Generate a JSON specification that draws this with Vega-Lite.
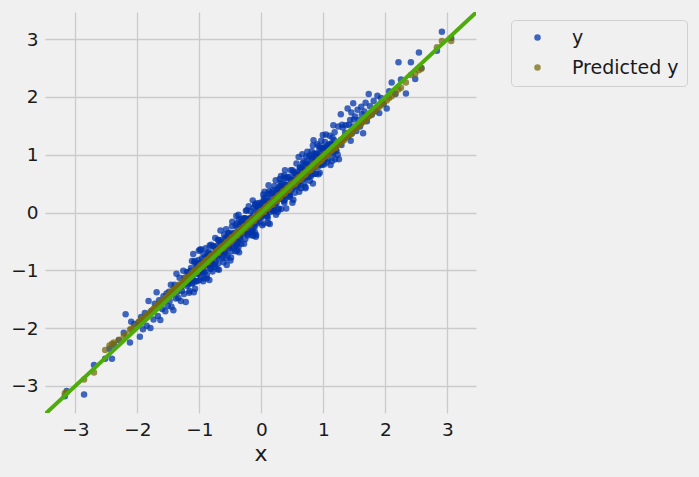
{
"$schema": "https://vega.github.io/schema/vega-lite/v6.json",
"width": 431, "height": 401,
"autosize": {"type": "none"},
"padding": {"left": 45, "top": 12, "right": 223, "bottom": 64},
"background": "#f0f0f0",
"config": {
  "view": {"stroke": null},
  "font": "DejaVu Sans",
  "axis": {"grid": true, "gridColor": "#cbcbcb", "gridWidth": 1.3, "domain": false, "ticks": false, "labelFont": "DejaVu Sans", "labelFontSize": 18.5, "labelColor": "#1a1a1a", "titleFont": "DejaVu Sans", "titleFontWeight": "normal", "titleColor": "#1a1a1a"}
},
"data": {"values": [
{"x":-3.17,"y":-3.18,"p":-3.13},{"x":-3.14,"y":-3.09,"p":-3.11},{"x":-2.86,"y":-3.15,"p":-2.89},{"x":-2.70,"y":-2.64,"p":-2.77},{"x":-2.52,"y":-2.53,"p":-2.38},
{"x":-2.45,"y":-2.36,"p":-2.30},{"x":-2.41,"y":-2.53,"p":-2.27},{"x":-2.38,"y":-2.29,"p":-2.25},{"x":-2.30,"y":-2.21,"p":-2.20},{"x":-2.22,"y":-2.08,"p":-2.14},{"x":-2.19,"y":-1.76,"p":-2.11},{"x":-2.12,"y":-2.25,"p":-2.03},{"x":-2.10,"y":-1.89,"p":-2.01},{"x":-2.05,"y":-1.93,"p":-1.97},
{"x":-1.98,"y":-1.90,"p":-1.90},{"x":-1.96,"y":-2.15,"p":-1.88},{"x":-1.94,"y":-1.81,"p":-1.86},{"x":-1.91,"y":-2.02,"p":-1.83},{"x":-1.88,"y":-1.74,"p":-1.81},{"x":-1.85,"y":-1.96,"p":-1.78},{"x":-1.82,"y":-1.53,"p":-1.75},{"x":-1.79,"y":-2.00,"p":-1.72},{"x":-1.77,"y":-1.70,"p":-1.70},{"x":-1.74,"y":-1.85,"p":-1.67},{"x":-1.72,"y":-1.58,"p":-1.65},{"x":-1.69,"y":-1.38,"p":-1.62},{"x":-1.67,"y":-1.79,"p":-1.60},{"x":-1.65,"y":-1.52,"p":-1.58},{"x":-1.63,"y":-1.86,"p":-1.56},{"x":-1.60,"y":-1.67,"p":-1.54},{"x":-1.58,"y":-1.45,"p":-1.52},{"x":-1.55,"y":-1.71,"p":-1.49},{"x":-1.53,"y":-1.40,"p":-1.47},{"x":-1.51,"y":-1.62,"p":-1.45},
{"x":-1.49,"y":-1.37,"p":-1.41},{"x":-1.48,"y":-1.53,"p":-1.43},{"x":-1.46,"y":-1.25,"p":-1.37},{"x":-1.45,"y":-1.63,"p":-1.39},{"x":-1.44,"y":-1.41,"p":-1.40},{"x":-1.42,"y":-1.69,"p":-1.35},{"x":-1.41,"y":-1.32,"p":-1.38},{"x":-1.40,"y":-1.25,"p":-1.32},{"x":-1.38,"y":-1.49,"p":-1.32},{"x":-1.37,"y":-1.06,"p":-1.33},{"x":-1.36,"y":-1.38,"p":-1.29},{"x":-1.34,"y":-1.48,"p":-1.30},{"x":-1.33,"y":-1.27,"p":-1.25},{"x":-1.32,"y":-1.13,"p":-1.27},{"x":-1.30,"y":-1.53,"p":-1.27},{"x":-1.29,"y":-1.28,"p":-1.23},{"x":-1.28,"y":-1.36,"p":-1.26},{"x":-1.26,"y":-1.01,"p":-1.19},{"x":-1.25,"y":-1.41,"p":-1.20},{"x":-1.24,"y":-1.13,"p":-1.20},{"x":-1.22,"y":-1.55,"p":-1.15},{"x":-1.21,"y":-1.17,"p":-1.17},{"x":-1.20,"y":-1.03,"p":-1.12},{"x":-1.18,"y":-1.24,"p":-1.13},{"x":-1.17,"y":-1.09,"p":-1.14},{"x":-1.16,"y":-1.36,"p":-1.10},{"x":-1.14,"y":-1.01,"p":-1.12},{"x":-1.13,"y":-1.14,"p":-1.06},{"x":-1.12,"y":-0.84,"p":-1.08},{"x":-1.11,"y":-1.23,"p":-1.08},{"x":-1.10,"y":-0.72,"p":-1.04},{"x":-1.09,"y":-1.18,"p":-1.06},{"x":-1.08,"y":-0.86,"p":-1.01},{"x":-1.07,"y":-1.32,"p":-1.03},{"x":-1.06,"y":-1.04,"p":-1.04},{"x":-1.05,"y":-0.89,"p":-1.00},{"x":-1.04,"y":-1.19,"p":-1.03},{"x":-1.03,"y":-0.93,"p":-0.97},{"x":-1.02,"y":-1.06,"p":-0.98},{"x":-1.01,"y":-0.66,"p":-0.98},{"x":-1.00,"y":-0.88,"p":-0.94},
{"x":-0.99,"y":-0.64,"p":-0.93},{"x":-0.98,"y":-1.02,"p":-0.95},{"x":-0.975,"y":-0.88,"p":-0.91},{"x":-0.97,"y":-1.12,"p":-0.93},{"x":-0.96,"y":-0.80,"p":-0.94},{"x":-0.95,"y":-0.93,"p":-0.90},{"x":-0.94,"y":-1.19,"p":-0.93},{"x":-0.935,"y":-0.72,"p":-0.88},{"x":-0.93,"y":-1.02,"p":-0.89},{"x":-0.92,"y":-0.85,"p":-0.89},{"x":-0.91,"y":-1.03,"p":-0.85},{"x":-0.90,"y":-0.62,"p":-0.87},{"x":-0.89,"y":-0.90,"p":-0.82},{"x":-0.885,"y":-0.76,"p":-0.85},{"x":-0.88,"y":-1.08,"p":-0.86},{"x":-0.87,"y":-0.79,"p":-0.83},{"x":-0.86,"y":-0.92,"p":-0.86},{"x":-0.85,"y":-0.68,"p":-0.80},{"x":-0.845,"y":-0.81,"p":-0.81},{"x":-0.84,"y":-1.17,"p":-0.82},{"x":-0.83,"y":-0.72,"p":-0.78},{"x":-0.82,"y":-0.98,"p":-0.80},{"x":-0.81,"y":-0.56,"p":-0.75},{"x":-0.80,"y":-0.88,"p":-0.77},{"x":-0.795,"y":-0.79,"p":-0.78},{"x":-0.79,"y":-1.02,"p":-0.75},{"x":-0.78,"y":-0.59,"p":-0.78},{"x":-0.77,"y":-0.71,"p":-0.72},{"x":-0.76,"y":-0.90,"p":-0.73},{"x":-0.75,"y":-0.77,"p":-0.73},{"x":-0.745,"y":-0.44,"p":-0.70},{"x":-0.74,"y":-0.85,"p":-0.72},{"x":-0.73,"y":-0.58,"p":-0.67},{"x":-0.72,"y":-0.63,"p":-0.69},{"x":-0.71,"y":-0.98,"p":-0.70},{"x":-0.70,"y":-0.67,"p":-0.66},{"x":-0.695,"y":-0.88,"p":-0.70},{"x":-0.69,"y":-0.48,"p":-0.64},{"x":-0.68,"y":-0.73,"p":-0.65},{"x":-0.67,"y":-0.55,"p":-0.65},{"x":-0.66,"y":-0.31,"p":-0.61},{"x":-0.65,"y":-0.69,"p":-0.63},{"x":-0.645,"y":-0.55,"p":-0.59},{"x":-0.64,"y":-0.79,"p":-0.61},{"x":-0.63,"y":-0.47,"p":-0.62},{"x":-0.62,"y":-0.60,"p":-0.59},{"x":-0.61,"y":-0.86,"p":-0.62},{"x":-0.60,"y":-0.38,"p":-0.56},{"x":-0.595,"y":-0.69,"p":-0.57},{"x":-0.59,"y":-0.52,"p":-0.58},{"x":-0.58,"y":-0.70,"p":-0.54},{"x":-0.57,"y":-0.29,"p":-0.56},{"x":-0.56,"y":-0.91,"p":-0.51},{"x":-0.55,"y":-0.42,"p":-0.53},{"x":-0.545,"y":-0.75,"p":-0.54},{"x":-0.54,"y":-0.46,"p":-0.51},{"x":-0.53,"y":-0.59,"p":-0.54},{"x":-0.52,"y":-0.35,"p":-0.48},{"x":-0.51,"y":-0.47,"p":-0.49},{"x":-0.50,"y":-0.83,"p":-0.49},
{"x":-0.49,"y":-0.37,"p":-0.45},{"x":-0.485,"y":-0.67,"p":-0.48},{"x":-0.48,"y":-0.39,"p":-0.43},{"x":-0.47,"y":-0.16,"p":-0.45},{"x":-0.465,"y":-0.41,"p":-0.47},{"x":-0.46,"y":-0.45,"p":-0.43},{"x":-0.45,"y":-0.61,"p":-0.46},{"x":-0.445,"y":-0.41,"p":-0.41},{"x":-0.44,"y":-0.36,"p":-0.42},{"x":-0.43,"y":-0.44,"p":-0.42},{"x":-0.425,"y":-0.36,"p":-0.39},{"x":-0.42,"y":-0.67,"p":-0.41},{"x":-0.41,"y":-0.56,"p":-0.36},{"x":-0.405,"y":-0.06,"p":-0.39},{"x":-0.40,"y":-0.19,"p":-0.40},{"x":-0.39,"y":-0.66,"p":-0.36},{"x":-0.385,"y":-0.50,"p":-0.40},{"x":-0.38,"y":-0.52,"p":-0.34},{"x":-0.37,"y":-0.60,"p":-0.36},{"x":-0.365,"y":-0.12,"p":-0.36},{"x":-0.36,"y":-0.69,"p":-0.33},{"x":-0.35,"y":-0.41,"p":-0.35},{"x":-0.345,"y":-0.22,"p":-0.30},{"x":-0.34,"y":-0.46,"p":-0.33},{"x":-0.33,"y":-0.11,"p":-0.34},{"x":-0.325,"y":-0.17,"p":-0.30},{"x":-0.32,"y":-0.36,"p":-0.34},{"x":-0.31,"y":-0.36,"p":-0.28},{"x":-0.305,"y":-0.28,"p":-0.29},{"x":-0.30,"y":-0.15,"p":-0.30},{"x":-0.29,"y":-0.31,"p":-0.26},{"x":-0.285,"y":-0.10,"p":-0.28},{"x":-0.28,"y":-0.36,"p":-0.24},{"x":-0.27,"y":-0.16,"p":-0.26},{"x":-0.265,"y":-0.10,"p":-0.27},{"x":-0.26,"y":-0.46,"p":-0.24},{"x":-0.25,"y":0.03,"p":-0.27},{"x":-0.245,"y":-0.34,"p":-0.22},{"x":-0.24,"y":-0.22,"p":-0.23},{"x":-0.23,"y":-0.13,"p":-0.23},{"x":-0.225,"y":-0.11,"p":-0.20},{"x":-0.22,"y":-0.40,"p":-0.22},{"x":-0.21,"y":-0.12,"p":-0.17},{"x":-0.205,"y":0.11,"p":-0.20},{"x":-0.20,"y":-0.14,"p":-0.21},{"x":-0.19,"y":-0.18,"p":-0.17},{"x":-0.185,"y":-0.35,"p":-0.21},{"x":-0.18,"y":-0.14,"p":-0.15},{"x":-0.17,"y":-0.09,"p":-0.16},{"x":-0.165,"y":-0.18,"p":-0.17},{"x":-0.16,"y":-0.09,"p":-0.13},{"x":-0.15,"y":-0.40,"p":-0.15},{"x":-0.145,"y":-0.30,"p":-0.11},{"x":-0.14,"y":0.21,"p":-0.13},{"x":-0.13,"y":0.08,"p":-0.14},{"x":-0.125,"y":-0.40,"p":-0.11},{"x":-0.12,"y":-0.23,"p":-0.15},{"x":-0.11,"y":-0.25,"p":-0.09},{"x":-0.105,"y":-0.34,"p":-0.10},{"x":-0.10,"y":0.15,"p":-0.11},{"x":-0.09,"y":-0.42,"p":-0.07},{"x":-0.085,"y":-0.15,"p":-0.09},{"x":-0.08,"y":0.05,"p":-0.05},{"x":-0.07,"y":-0.19,"p":-0.07},{"x":-0.065,"y":0.16,"p":-0.08},{"x":-0.06,"y":0.10,"p":-0.05},{"x":-0.05,"y":-0.09,"p":-0.08},{"x":-0.045,"y":-0.10,"p":-0.02},{"x":-0.04,"y":-0.01,"p":-0.04},{"x":-0.03,"y":0.12,"p":-0.04},{"x":-0.025,"y":-0.05,"p":0.00},{"x":-0.02,"y":0.17,"p":-0.03},{"x":-0.01,"y":-0.09,"p":0.02},{"x":-0.005,"y":0.11,"p":0.00},
{"x":0.00,"y":0.12,"p":0.02},{"x":0.01,"y":0.16,"p":0.00},{"x":0.015,"y":-0.22,"p":0.04},{"x":0.02,"y":0.06,"p":0.02},{"x":0.03,"y":0.31,"p":0.01},{"x":0.035,"y":0.20,"p":0.04},{"x":0.04,"y":0.25,"p":0.01},{"x":0.05,"y":0.36,"p":0.07},{"x":0.055,"y":-0.03,"p":0.05},{"x":0.06,"y":0.00,"p":0.05},{"x":0.07,"y":0.14,"p":0.09},{"x":0.075,"y":0.18,"p":0.06},{"x":0.08,"y":0.11,"p":0.11},{"x":0.09,"y":-0.05,"p":0.09},{"x":0.095,"y":-0.07,"p":0.07},{"x":0.10,"y":-0.10,"p":0.11},{"x":0.11,"y":0.33,"p":0.08},{"x":0.115,"y":0.47,"p":0.13},{"x":0.12,"y":0.21,"p":0.12},{"x":0.13,"y":0.32,"p":0.11},{"x":0.135,"y":-0.20,"p":0.15},{"x":0.14,"y":0.13,"p":0.12},{"x":0.15,"y":0.17,"p":0.17},{"x":0.155,"y":0.11,"p":0.15},{"x":0.16,"y":0.05,"p":0.13},{"x":0.17,"y":0.18,"p":0.17},{"x":0.175,"y":0.35,"p":0.14},{"x":0.18,"y":0.06,"p":0.19},{"x":0.19,"y":0.04,"p":0.18},{"x":0.195,"y":0.02,"p":0.18},{"x":0.20,"y":0.18,"p":0.21},{"x":0.21,"y":0.46,"p":0.19},{"x":0.215,"y":0.30,"p":0.24},{"x":0.22,"y":0.13,"p":0.21},{"x":0.23,"y":0.19,"p":0.20},{"x":0.235,"y":-0.04,"p":0.24},{"x":0.24,"y":0.30,"p":0.20},{"x":0.25,"y":0.36,"p":0.26},{"x":0.255,"y":0.39,"p":0.24},{"x":0.26,"y":0.01,"p":0.24},{"x":0.27,"y":0.39,"p":0.28},{"x":0.275,"y":0.43,"p":0.25},{"x":0.28,"y":0.05,"p":0.30},{"x":0.29,"y":0.33,"p":0.28},{"x":0.295,"y":0.58,"p":0.26},{"x":0.30,"y":0.46,"p":0.30},{"x":0.31,"y":0.52,"p":0.27},{"x":0.315,"y":0.63,"p":0.32},{"x":0.32,"y":0.24,"p":0.31},{"x":0.33,"y":0.27,"p":0.31},{"x":0.335,"y":0.41,"p":0.34},{"x":0.34,"y":0.44,"p":0.32},{"x":0.35,"y":0.38,"p":0.37},{"x":0.355,"y":0.22,"p":0.34},{"x":0.36,"y":0.20,"p":0.33},{"x":0.37,"y":0.17,"p":0.37},{"x":0.375,"y":0.60,"p":0.33},{"x":0.38,"y":0.73,"p":0.38},{"x":0.39,"y":0.48,"p":0.37},{"x":0.395,"y":0.59,"p":0.37},{"x":0.40,"y":0.07,"p":0.40},{"x":0.41,"y":0.40,"p":0.38},{"x":0.415,"y":0.44,"p":0.43},{"x":0.42,"y":0.37,"p":0.40},{"x":0.43,"y":0.32,"p":0.39},{"x":0.435,"y":0.45,"p":0.43},{"x":0.44,"y":0.61,"p":0.39},{"x":0.45,"y":0.33,"p":0.45},{"x":0.455,"y":0.31,"p":0.44},{"x":0.46,"y":0.28,"p":0.43},{"x":0.47,"y":0.45,"p":0.47},{"x":0.475,"y":0.73,"p":0.45},{"x":0.48,"y":0.56,"p":0.49},{"x":0.49,"y":0.40,"p":0.47},
{"x":0.50,"y":0.17,"p":0.50},{"x":0.51,"y":0.55,"p":0.48},{"x":0.515,"y":0.69,"p":0.52},{"x":0.52,"y":0.46,"p":0.50},{"x":0.53,"y":0.61,"p":0.49},{"x":0.54,"y":0.34,"p":0.53},{"x":0.55,"y":0.68,"p":0.50},{"x":0.56,"y":0.55,"p":0.56},{"x":0.565,"y":0.85,"p":0.54},{"x":0.57,"y":0.45,"p":0.54},{"x":0.58,"y":0.65,"p":0.58},{"x":0.59,"y":0.50,"p":0.56},{"x":0.60,"y":0.96,"p":0.61},{"x":0.61,"y":0.36,"p":0.59},{"x":0.615,"y":0.64,"p":0.57},{"x":0.62,"y":0.78,"p":0.61},{"x":0.63,"y":0.48,"p":0.57},{"x":0.64,"y":0.74,"p":0.63},{"x":0.65,"y":0.61,"p":0.62},{"x":0.66,"y":1.01,"p":0.62},{"x":0.665,"y":0.79,"p":0.66},{"x":0.67,"y":0.62,"p":0.63},{"x":0.68,"y":0.89,"p":0.68},{"x":0.69,"y":0.51,"p":0.66},{"x":0.70,"y":0.73,"p":0.65},{"x":0.71,"y":0.44,"p":0.69},{"x":0.715,"y":0.81,"p":0.66},{"x":0.72,"y":0.87,"p":0.71},{"x":0.73,"y":0.62,"p":0.70},{"x":0.74,"y":1.05,"p":0.70},{"x":0.75,"y":0.73,"p":0.74},{"x":0.76,"y":0.62,"p":0.72},{"x":0.765,"y":0.83,"p":0.76},{"x":0.77,"y":0.96,"p":0.74},{"x":0.78,"y":0.55,"p":0.73},{"x":0.79,"y":0.80,"p":0.77},{"x":0.80,"y":0.72,"p":0.74},{"x":0.81,"y":1.06,"p":0.80},{"x":0.815,"y":0.66,"p":0.78},{"x":0.82,"y":0.93,"p":0.78},{"x":0.83,"y":0.50,"p":0.82},{"x":0.84,"y":1.25,"p":0.80},{"x":0.85,"y":1.02,"p":0.85},{"x":0.86,"y":0.80,"p":0.83},{"x":0.865,"y":0.95,"p":0.81},{"x":0.87,"y":0.67,"p":0.85},{"x":0.88,"y":1.01,"p":0.81},{"x":0.89,"y":0.88,"p":0.87},{"x":0.90,"y":1.18,"p":0.86},{"x":0.91,"y":0.79,"p":0.86},{"x":0.915,"y":0.99,"p":0.90},{"x":0.92,"y":0.83,"p":0.87},{"x":0.93,"y":1.15,"p":0.92},{"x":0.94,"y":0.69,"p":0.90},{"x":0.95,"y":0.97,"p":0.89},{"x":0.96,"y":1.12,"p":0.93},{"x":0.965,"y":0.82,"p":0.90},{"x":0.97,"y":1.07,"p":0.95},{"x":0.98,"y":0.94,"p":0.94},{"x":0.99,"y":1.34,"p":0.94},
{"x":1.00,"y":1.12,"p":0.98},{"x":1.01,"y":0.83,"p":0.96},{"x":1.03,"y":1.12,"p":1.02},{"x":1.04,"y":1.35,"p":1.00},{"x":1.05,"y":1.11,"p":0.99},{"x":1.06,"y":1.07,"p":1.03},{"x":1.08,"y":0.92,"p":1.01},{"x":1.09,"y":1.13,"p":1.07},{"x":1.10,"y":1.18,"p":1.06},{"x":1.11,"y":1.10,"p":1.06},{"x":1.13,"y":1.20,"p":1.10},{"x":1.14,"y":0.89,"p":1.08},{"x":1.15,"y":1.00,"p":1.13},{"x":1.16,"y":1.51,"p":1.11},{"x":1.18,"y":1.39,"p":1.11},{"x":1.19,"y":0.92,"p":1.15},{"x":1.20,"y":1.09,"p":1.12},{"x":1.21,"y":1.07,"p":1.18},{"x":1.23,"y":1.00,"p":1.18},{"x":1.24,"y":1.49,"p":1.18},{"x":1.25,"y":0.92,"p":1.22},{"x":1.26,"y":1.20,"p":1.20},{"x":1.28,"y":1.70,"p":1.26},{"x":1.29,"y":1.17,"p":1.24},{"x":1.30,"y":1.52,"p":1.23},{"x":1.31,"y":1.47,"p":1.27},{"x":1.33,"y":1.29,"p":1.25},{"x":1.34,"y":1.29,"p":1.31},{"x":1.35,"y":1.38,"p":1.30},{"x":1.36,"y":1.51,"p":1.30},{"x":1.38,"y":1.36,"p":1.34},{"x":1.39,"y":1.80,"p":1.32},{"x":1.40,"y":1.32,"p":1.37},{"x":1.41,"y":1.52,"p":1.35},{"x":1.43,"y":1.60,"p":1.35},{"x":1.44,"y":1.24,"p":1.39},{"x":1.45,"y":1.73,"p":1.36},{"x":1.46,"y":1.37,"p":1.42},{"x":1.47,"y":1.49,"p":1.41},{"x":1.48,"y":1.89,"p":1.41},{"x":1.49,"y":1.61,"p":1.45},
{"x":1.51,"y":1.66,"p":1.45},{"x":1.53,"y":1.41,"p":1.47},{"x":1.55,"y":1.78,"p":1.49},{"x":1.57,"y":1.60,"p":1.50},{"x":1.59,"y":1.49,"p":1.53},{"x":1.61,"y":1.83,"p":1.54},{"x":1.62,"y":1.70,"p":1.56},{"x":1.64,"y":1.37,"p":1.57},{"x":1.66,"y":1.75,"p":1.59},{"x":1.68,"y":1.90,"p":1.61},{"x":1.70,"y":1.58,"p":1.63},{"x":1.73,"y":2.05,"p":1.66},{"x":1.75,"y":1.84,"p":1.68},{"x":1.78,"y":1.69,"p":1.71},{"x":1.81,"y":1.93,"p":1.74},{"x":1.84,"y":1.76,"p":1.77},{"x":1.87,"y":2.02,"p":1.80},{"x":1.90,"y":1.72,"p":1.83},{"x":1.93,"y":1.98,"p":1.86},{"x":1.97,"y":1.88,"p":1.89},
{"x":2.02,"y":1.80,"p":1.94},{"x":2.06,"y":2.10,"p":1.98},{"x":2.10,"y":2.25,"p":2.01},{"x":2.16,"y":2.05,"p":2.06},{"x":2.21,"y":2.60,"p":2.13},{"x":2.25,"y":2.30,"p":2.16},{"x":2.33,"y":2.06,"p":2.25},{"x":2.41,"y":2.60,"p":2.38},{"x":2.48,"y":2.31,"p":2.40},
{"x":2.54,"y":2.77,"p":2.46},{"x":2.58,"y":2.50,"p":2.49},{"x":2.83,"y":2.80,"p":2.86},{"x":2.91,"y":3.13,"p":2.97},{"x":3.06,"y":3.02,"p":2.97},
{"x":-1.195,"y":-1.27},{"x":-1.18,"y":-1.04},{"x":-1.165,"y":-1.39},{"x":-1.15,"y":-1.10},{"x":-1.135,"y":-0.96},{"x":-1.12,"y":-1.22},{"x":-1.105,"y":-1.09},{"x":-1.09,"y":-1.38},{"x":-1.075,"y":-0.84},{"x":-1.06,"y":-1.19},{"x":-1.045,"y":-0.96},{"x":-1.03,"y":-1.06},{"x":-1.015,"y":-0.82},{"x":-1.00,"y":-1.17},{"x":-0.985,"y":-0.88},{"x":-0.97,"y":-0.64},{"x":-0.955,"y":-1.04},{"x":-0.94,"y":-0.94},{"x":-0.925,"y":-1.14},{"x":-0.91,"y":-0.78},{"x":-0.895,"y":-0.84},{"x":-0.88,"y":-1.14},{"x":-0.865,"y":-0.71},{"x":-0.85,"y":-0.89},{"x":-0.835,"y":-0.57},{"x":-0.82,"y":-0.97},{"x":-0.805,"y":-0.73},{"x":-0.79,"y":-0.90},{"x":-0.775,"y":-0.59},{"x":-0.76,"y":-0.75},{"x":-0.745,"y":-0.94},{"x":-0.73,"y":-0.63},{"x":-0.715,"y":-0.78},{"x":-0.70,"y":-0.47},{"x":-0.685,"y":-0.99},{"x":-0.67,"y":-0.63},{"x":-0.655,"y":-0.51},{"x":-0.64,"y":-0.76},{"x":-0.625,"y":-0.56},{"x":-0.61,"y":-0.63},
{"x":-0.595,"y":-0.67},{"x":-0.58,"y":-0.44},{"x":-0.565,"y":-0.79},{"x":-0.55,"y":-0.50},{"x":-0.535,"y":-0.36},{"x":-0.52,"y":-0.62},{"x":-0.505,"y":-0.49},{"x":-0.49,"y":-0.78},{"x":-0.475,"y":-0.24},{"x":-0.46,"y":-0.59},{"x":-0.445,"y":-0.36},{"x":-0.43,"y":-0.46},{"x":-0.415,"y":-0.22},{"x":-0.40,"y":-0.57},{"x":-0.385,"y":-0.28},{"x":-0.37,"y":-0.04},{"x":-0.355,"y":-0.44},{"x":-0.34,"y":-0.34},{"x":-0.325,"y":-0.54},{"x":-0.31,"y":-0.18},{"x":-0.295,"y":-0.24},{"x":-0.28,"y":-0.54},{"x":-0.265,"y":-0.11},{"x":-0.25,"y":-0.29},{"x":-0.235,"y":0.04},{"x":-0.22,"y":-0.37},{"x":-0.205,"y":-0.13},{"x":-0.19,"y":-0.30},{"x":-0.175,"y":0.02},{"x":-0.16,"y":-0.15},{"x":-0.145,"y":-0.34},{"x":-0.13,"y":-0.03},{"x":-0.115,"y":-0.18},{"x":-0.10,"y":0.13},{"x":-0.085,"y":-0.39},{"x":-0.07,"y":-0.03},{"x":-0.055,"y":0.10},{"x":-0.04,"y":-0.16},{"x":-0.025,"y":0.05},{"x":-0.01,"y":-0.03},
{"x":0.005,"y":-0.07},{"x":0.02,"y":0.16},{"x":0.035,"y":-0.19},{"x":0.05,"y":0.10},{"x":0.065,"y":0.25},{"x":0.08,"y":-0.02},{"x":0.095,"y":0.12},{"x":0.11,"y":-0.18},{"x":0.125,"y":0.37},{"x":0.14,"y":0.01},{"x":0.155,"y":0.25},{"x":0.17,"y":0.14},{"x":0.185,"y":0.39},{"x":0.20,"y":0.03},{"x":0.215,"y":0.33},{"x":0.23,"y":0.56},{"x":0.245,"y":0.17},{"x":0.26,"y":0.26},{"x":0.275,"y":0.07},{"x":0.29,"y":0.42},{"x":0.305,"y":0.37},{"x":0.32,"y":0.06},{"x":0.335,"y":0.50},{"x":0.35,"y":0.31},{"x":0.365,"y":0.64},{"x":0.38,"y":0.23},{"x":0.395,"y":0.48},{"x":0.41,"y":0.30},{"x":0.425,"y":0.62},{"x":0.44,"y":0.45},{"x":0.455,"y":0.27},{"x":0.47,"y":0.57},{"x":0.485,"y":0.43},{"x":0.50,"y":0.73},{"x":0.515,"y":0.22},{"x":0.53,"y":0.57},{"x":0.545,"y":0.70},{"x":0.56,"y":0.44},{"x":0.575,"y":0.65},{"x":0.59,"y":0.57},
{"x":0.605,"y":0.54},{"x":0.62,"y":0.76},{"x":0.635,"y":0.42},{"x":0.65,"y":0.70},{"x":0.665,"y":0.85},{"x":0.68,"y":0.58},{"x":0.695,"y":0.72},{"x":0.71,"y":0.42},{"x":0.725,"y":0.97},{"x":0.74,"y":0.61},{"x":0.755,"y":0.85},{"x":0.77,"y":0.74},{"x":0.785,"y":0.99},{"x":0.80,"y":0.63},{"x":0.815,"y":0.93},{"x":0.83,"y":1.16},{"x":0.845,"y":0.77},{"x":0.86,"y":0.86},{"x":0.875,"y":0.67},{"x":0.89,"y":1.02},{"x":0.905,"y":0.97},{"x":0.92,"y":0.66},{"x":0.935,"y":1.10},{"x":0.95,"y":0.91},{"x":0.965,"y":1.24},{"x":0.98,"y":0.83},{"x":0.995,"y":1.08},{"x":1.01,"y":0.90},{"x":1.025,"y":1.22},{"x":1.04,"y":1.05},{"x":1.055,"y":0.87},{"x":1.07,"y":1.17},{"x":1.085,"y":1.03},{"x":1.10,"y":1.33},{"x":1.115,"y":0.82},{"x":1.13,"y":1.17},{"x":1.145,"y":1.30},{"x":1.16,"y":1.04},{"x":1.175,"y":1.25},{"x":1.19,"y":1.17}
]},
"layer": [
  {"mark": {"type": "circle", "size": 42, "opacity": 0.74},
   "encoding": {
     "x": {"field": "x", "type": "quantitative", "scale": {"domain": [-3.49, 3.46], "nice": false, "zero": false},
           "axis": {"values": [-3, -2, -1, 0, 1, 2, 3], "format": "d", "title": "x", "titleFontSize": 22, "labelPadding": 7, "titlePadding": 5}},
     "y": {"field": "y", "type": "quantitative", "scale": {"domain": [-3.47, 3.47], "nice": false, "zero": false},
           "axis": {"values": [-3, -2, -1, 0, 1, 2, 3], "format": "d", "title": null, "labelPadding": 7}},
     "color": {"datum": "y", "type": "nominal",
               "scale": {"domain": ["y", "Predicted y"], "range": ["#0033aa", "#776a0c"]},
               "legend": {"title": null, "orient": "none", "legendX": 466, "legendY": 8, "padding": 8,
                          "strokeColor": "#d0d0d0", "fillColor": "#f0f0f0", "cornerRadius": 4,
                          "labelFont": "DejaVu Sans", "labelFontSize": 19, "labelColor": "#1a1a1a",
                          "symbolType": "circle", "symbolSize": 42, "symbolOpacity": 0.74, "symbolOffset": 9,
                          "labelOffset": 25, "rowPadding": 10, "symbolStrokeWidth": 0}}
   }},
  {"mark": {"type": "circle", "size": 42, "opacity": 0.74},
   "encoding": {
     "x": {"field": "x", "type": "quantitative"},
     "y": {"field": "p", "type": "quantitative", "title": null},
     "color": {"datum": "Predicted y", "type": "nominal"}
   }},
  {"data": {"values": [{"x": -3.6, "p": -3.6}, {"x": 3.6, "p": 3.6}]},
   "mark": {"type": "line", "color": "#4dab0a", "strokeWidth": 4, "clip": true},
   "encoding": {
     "x": {"field": "x", "type": "quantitative"},
     "y": {"field": "p", "type": "quantitative", "title": null}
   }}
]
}
